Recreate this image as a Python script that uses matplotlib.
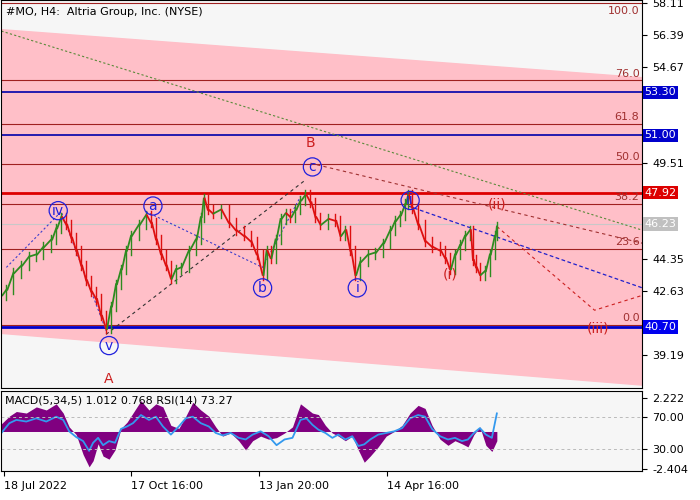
import matplotlib
matplotlib.use("Agg")
import matplotlib.pyplot as plt
import numpy as np

# ---- data (x = bar position, price values) ----
px = [0,5,12,20,28,35,42,50,55,60,65,70,75,80,85,90,95,100,105,110,115,120,125,130,138,145,150,155,160,165,170,175,180,188,195,200,203,207,212,220,228,235,243,250,256,262,266,270,275,280,285,290,295,300,305,310,315,320,328,335,340,345,350,355,360,368,375,383,390,395,400,405,408,412,418,425,432,440,445,450,455,460,465,470,473,476,480,485,490,495,497]
pp = [42.4,42.7,43.6,44.0,44.5,44.6,45.0,45.4,46.0,46.6,46.2,45.5,44.8,44.0,43.2,42.6,42.2,41.3,40.6,41.8,43.0,43.8,44.8,45.6,46.2,46.7,46.3,45.4,44.6,44.0,43.3,43.8,43.9,44.8,45.4,46.6,47.6,47.0,46.8,47.0,46.3,45.9,45.6,45.3,44.6,43.5,44.8,44.4,45.4,46.5,46.8,46.6,47.0,47.5,47.8,47.4,46.6,46.2,46.5,46.4,45.6,45.9,44.8,43.5,44.2,44.6,44.7,45.2,45.9,46.4,46.7,47.3,47.8,47.1,46.2,45.3,45.0,44.8,44.4,43.8,44.6,45.1,45.6,45.9,44.3,43.9,43.5,43.7,44.6,45.6,46.1]

mx = [0,8,15,25,35,45,55,62,68,75,82,88,92,97,102,108,114,120,126,132,140,148,155,162,170,178,185,192,200,208,215,222,230,238,245,252,260,268,276,284,292,300,306,312,318,325,332,338,345,352,358,364,370,378,386,394,402,410,418,425,432,440,448,455,462,468,474,480,486,492,497]
macd = [0.5,1.0,1.3,1.2,1.6,1.4,1.8,1.2,0.3,-0.2,-1.5,-2.3,-1.9,-0.8,-1.6,-1.8,-1.2,0.2,0.6,1.2,2.0,1.4,1.8,1.6,0.4,0.2,1.0,1.9,1.4,1.0,0.3,-0.3,-0.1,-0.6,-1.2,-0.6,-0.3,-0.5,-0.4,-0.1,0.3,1.8,1.5,1.2,1.1,0.4,-0.1,-0.3,-0.6,-0.3,-1.2,-2.0,-1.6,-1.0,-0.3,0.0,0.4,1.2,1.7,1.5,0.4,-0.5,-0.9,-0.6,-0.8,-1.0,-0.2,0.3,-0.9,-1.3,-0.6]
rsi = [50,62,66,64,68,64,70,66,52,45,40,28,38,44,35,40,38,55,58,62,72,66,70,58,48,58,68,70,62,58,50,47,50,44,42,48,52,46,35,42,44,66,68,60,54,50,44,48,42,46,34,36,42,48,50,52,56,68,72,70,55,46,42,44,40,42,50,56,48,44,74]

fibo_lv = ["100.0","76.0","61.8","50.0","38.2","23.6","0.0"]
fibo_px = [58.11,53.95,51.60,49.45,47.32,44.90,40.80]
hl_vals = [53.30,51.00,47.92,40.70]
hl_cols = ["#0000aa","#0000aa","#dd0000","#0000cc"]
yticks = [58.11,56.39,54.67,49.51,44.35,42.63,39.19]
xdates = ["18 Jul 2022","17 Oct 16:00","13 Jan 20:00","14 Apr 16:00"]
xdpos = [3,130,258,387]

fig = plt.figure(figsize=(7,5), dpi=100)
fig.patch.set_facecolor("white")
ax = fig.add_axes([0.002, 1-388/500, 641/700, 388/500])
ax.set_xlim(0,643); ax.set_ylim(37.42,58.27)
ax.set_facecolor("#f6f6f6")
pk = "#ffbfc8"
xs = np.array([0,643])
ax.fill_between(xs, [56.7,54.12], [40.38,37.6], color=pk, zorder=0)
for v,l in zip(fibo_px,fibo_lv):
    ax.axhline(v, color="#a02020", lw=0.8, zorder=1)
    top = (l == "100.0")
    ax.text(640, v-0.15 if top else v+0.1, l, color="#a03030", fontsize=8, ha="right",
            va="top" if top else "bottom")
ax.axhline(46.23, color="#c8c8c8", lw=0.8, zorder=1)
for v,c in zip(hl_vals,hl_cols):
    ax.axhline(v, color=c, lw=2 if v in (47.92,40.70) else 1.2, zorder=2)
ax.plot([0,643],[56.6,45.9], ls=(0,(2,2)), color="#5a8a3a", lw=0.8)
ax.plot([310,643],[49.5,45.2], ls=(0,(3,3)), color="#a03030", lw=0.8)
ax.plot([408,643],[47.2,42.8], ls=(0,(3,2)), color="#2020cc", lw=0.9)
ax.plot([497,595,643],[46.1,41.6,42.4], ls=(0,(3,3)), color="#cc2020", lw=0.8)
ax.plot([105,305],[40.3,48.6], ls=(0,(3,3)), color="#333333", lw=0.8)
ax.plot([5,60,105],[43.9,46.9,40.5], ls=(0,(2,2)), color="#4040cc", lw=0.8)
ax.plot([145,262,300],[46.9,43.9,47.7], ls=(0,(2,2)), color="#4040cc", lw=0.8)
for i in range(1,len(px)):
    o,c = pp[i-1],pp[i]
    col = "#2e8b20" if c>=o else "#dd1010"
    ax.plot([px[i],px[i]],[min(o,c)-0.25,max(o,c)+0.25], color=col, lw=1)
    ax.plot([px[i-1]+1,px[i]],[o,c], color=col, lw=1.3)
blue = [("iv",57,46.95),("a",152,47.2),("b",262,42.8),("c",312,49.3),("ii",410,47.5),("i",357,42.8),("v",108,39.7)]
for t,x,y in blue:
    ax.text(x,y,t,color="#2020dd",fontsize=10,ha="center",va="center",
            bbox=dict(boxstyle="circle,pad=0.15",fc="none",ec="#2020dd",lw=0.9))
for t,x,y in [("B",310,50.6),("A",108,37.9),("(ii)",497,47.3),("(i)",450,43.5),("(iii)",598,40.6)]:
    ax.text(x,y,t,color="#cc2020",fontsize=10,ha="center",va="center")
ax.text(5,57.65,"#MO, H4:  Altria Group, Inc. (NYSE)",fontsize=8,va="center")
ax.set_xticks([]); ax.yaxis.tick_right()
ax.set_yticks(yticks); ax.set_yticklabels([f"{v:.2f}" for v in yticks], fontsize=8)
for v,c,tc in [(53.30,"#0000cc","white"),(51.00,"#0000cc","white"),(47.92,"#dd0000","white"),(46.23,"#c0c0c0","white"),(40.70,"#0000ee","white")]:
    ax.text(1.003,(v-37.42)/(58.27-37.42),f"{v:.2f}",transform=ax.transAxes,fontsize=8,color=tc,
            va="center",ha="left",bbox=dict(boxstyle="square,pad=0.15",fc=c,ec="none"))
for s in ax.spines.values(): s.set_color("black")

ax2 = fig.add_axes([0.002, 1-471/500, 641/700, 80/500])
ax2.set_xlim(0,643); ax2.set_ylim(3.3,101.5); ax2.set_facecolor("#f6f6f6")
k = (72/4.626)/0.825
mxx = np.array(mx, float); h = 51.8+np.array(macd)*k
ax2.fill_between(mxx, 51.8, h, color="#800080", lw=0)
ax2.plot(mxx, rsi, color="#3399ee", lw=1.3)
ax2.axhline(70,color="#bbbbbb",ls=(0,(3,3)),lw=0.7); ax2.axhline(30,color="#bbbbbb",ls=(0,(3,3)),lw=0.7)
ax2.text(4,96,"MACD(5,34,5) 1.012 0.768 RSI(14) 73.27",fontsize=8,va="top")
ax2.yaxis.tick_right()
ax2.set_yticks([93.3,70,30,6]); ax2.set_yticklabels(["2.222","70.00","30.00","-2.404"],fontsize=8)
ax2.set_xticks(xdpos); ax2.set_xticklabels(xdates, fontsize=8, ha="left")
fig.savefig("out.png", dpi=100)
